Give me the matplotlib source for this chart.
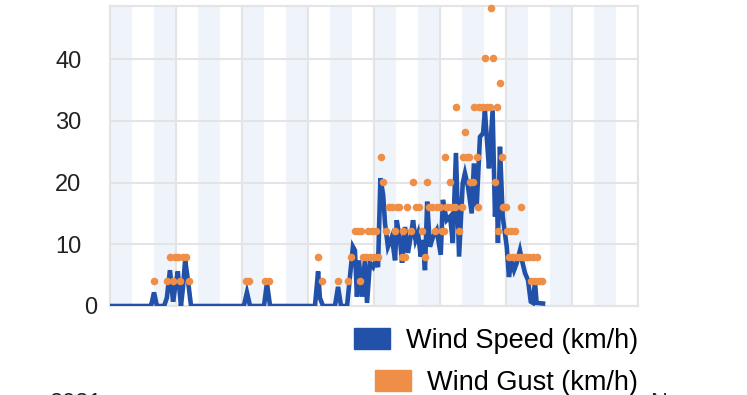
import matplotlib
matplotlib.use("Agg")
import matplotlib.pyplot as plt
import matplotlib.transforms as mtransforms
from matplotlib.patches import Patch

plt.rcParams['font.family'] = ['Liberation Sans', 'DejaVu Sans']

# hours since start of the period
speed_hours = [0, 21.8, 22.4, 24, 25.6, 29.5, 31, 32.7, 34.4, 35.5, 37, 38.7, 39.8, 41, 42.5, 44.2,
               73, 74.7, 76.4, 84, 85.6, 87.3, 111.8, 113.5, 114.5, 116.2, 122.7, 124.4, 126,
               129.3, 132.5, 133.6, 134.7, 135.8, 137.5, 139, 140.2, 141.8, 143.5, 145, 146.2,
               147.5, 149, 150, 151.6, 153.7, 155.5, 156.4, 158.2, 159.3, 160.9, 162.5, 164,
               165.3, 166.7, 168, 169.5, 170.7, 171.8, 173, 174.5, 176.2, 178.2, 180.4, 181.6,
               183.6, 185.5, 187, 188.7, 190.4, 192.4, 193.6, 195.3, 197.3, 198.5, 200, 201.8,
               203.5, 204.5, 205.6, 206.7, 208.7, 210, 211, 211.6, 212.7, 214.2, 216.4, 217.6,
               219, 220.4, 221.8, 223.6, 225, 226.4, 228, 229.5, 230.7, 231.8, 232.7, 236.2]
speed_kmh = [0, 0, 0, 2.2, 0, 0, 1.3, 5.8, 0.7, 3, 5.6, 0, 3, 7.4, 4.2, 0,
             0, 2.2, 0, 0, 3.7, 0, 0, 5.6, 1.3, 0, 0, 3.1, 0,
             0, 9.6, 9.0, 1.5, 7.4, 1.5, 7.4, 0.5, 7, 6.3, 7.4, 6.3,
             20.7, 18, 13.4, 9.6, 11.2, 7.4, 13.9, 10.7, 7, 12.8, 8.6, 11.2,
             13.9, 10.7, 11.8, 8, 10.7, 5.8, 16.9, 9.6, 11.2, 12.3, 8.3, 17.2,
             13.9, 14.5, 10.2, 24.8, 8, 19.9, 21.5, 19.3, 15, 23.1, 16.1, 27.4,
             28, 31.7, 26.9, 22.3, 31.7, 14.5, 19.3, 10.2, 25.8, 14.5, 9.6, 4.7,
             7.4, 5.8, 6.9, 9, 7, 5.3, 4.2, 0.7, 0.5, 3.9, 0.5, 0.4]

gust_hours = [24, 31, 32.7, 34.4, 35.5, 37, 38.2, 39.8, 41.5, 43,
              74.2, 75.8, 84.5, 86.7, 113.5, 115.5, 124.4,
              129.8, 131.5, 133.6, 135.3, 136.4, 136.9, 138, 139.6, 140.7, 141.8, 143, 144,
              145, 146.2, 147.6, 149, 150.5, 152.2, 153.8, 155.5, 156.5, 157.6, 159.3, 159.8,
              160.9, 162, 164.2, 165.3, 167, 168.5, 170.2, 171.8, 173, 174, 175.6, 177.3,
              178.4, 180, 181, 182.2, 182.7, 183.3, 184.4, 185.5, 186.5, 188.2, 188.7, 190.4,
              192, 192.5, 193.6, 194.7, 195.8, 196.4, 198, 198.5, 200.2, 200.5, 201.3, 203.5,
              204.5, 205.6, 207.3, 207.8, 208.7, 209.8, 210.9, 211.6, 212.7, 213.8, 214.4,
              216, 216.5, 217.6, 218.7, 219.8, 220.9, 222, 223.6, 224.2, 225.3, 226.9, 228.5,
              229.6, 230.7, 231.8, 232.9, 234, 235.6]
gust_kmh = [4.0, 4.0, 8.0, 4.0, 8.0, 8.0, 4.0, 8.0, 8.0, 4.0,
            4.0, 4.0, 4.0, 4.0, 8.0, 4.0, 4.0,
            4.0, 8.0, 12.1, 12.1, 4.0, 12.1, 8.0, 8.0, 12.1, 8.0, 12.1, 8.0,
            12.1, 8.0, 24.1, 20.1, 12.1, 16.1, 16.1, 12.1, 16.1, 16.1, 8.0, 12.1,
            8.0, 16.1, 12.1, 20.1, 16.1, 16.1, 12.1, 8.0, 20.1, 16.1, 16.1, 12.1,
            16.1, 16.1, 12.1, 12.1, 24.1, 16.1, 16.1, 20.1, 16.1, 16.1, 32.2, 12.1,
            16.1, 24.1, 28.2, 24.1, 24.1, 20.1, 20.1, 32.2, 24.1, 16.1, 32.2, 32.2,
            40.2, 32.2, 32.2, 48.3, 40.2, 20.1, 32.2, 12.1, 36.2, 24.1, 16.1,
            16.1, 12.1, 8.0, 12.1, 8.0, 12.1, 8.0, 8.0, 16.1, 8.0, 8.0, 8.0,
            4.0, 8.0, 4.0, 8.0, 4.0, 4.0]

y_ticks = [0, 10, 20, 30, 40]
night_starts = [24 * d for d in range(12)]

blue = '#2251a9'
orange = '#ef8e47'
grid_c = '#e4e4e7'

fig = plt.figure(figsize=(7.47, 3.95), dpi=100)
ax = fig.add_axes([110 / 747, 89 / 395, 528 / 747, 300 / 395])

for s in night_starts:
    ax.axvspan(s, s + 12, color='#eff4fa', lw=0, zorder=0)

ax.set_xlim(0, 288)
ax.set_ylim(0, 48.6)
ax.set_xticks(range(0, 289, 36))
ax.set_yticks(y_ticks)
ax.grid(True, color=grid_c, lw=1.5, zorder=1)
ax.set_axisbelow(True)
for sp in ax.spines.values():
    sp.set_color(grid_c)
    sp.set_linewidth(1.5)
ax.tick_params(length=0, labelbottom=False, labelsize=17, colors='#222222', pad=20.5)
for lab in ax.get_yticklabels():
    if lab.get_text() == '0':
        lab.set_transform(lab.get_transform() + mtransforms.ScaledTranslation(16 / 100, 0, fig.dpi_scale_trans))

ax.plot(speed_hours, speed_kmh, color=blue, lw=3.3, solid_joinstyle='miter', zorder=3)
ax.scatter(gust_hours, gust_kmh, s=30, color=orange, lw=0, zorder=4, clip_on=False)

h1 = Patch(color=blue)
h2 = Patch(color=orange)
leg1 = ax.legend([h1], ['Wind Speed (km/h)'], loc='upper right', bbox_to_anchor=(638 / 747, 1 - 328 / 395),
                 bbox_transform=fig.transFigure, frameon=False, fontsize=19.5, handlelength=1.33,
                 handleheight=0.8, handletextpad=0.6, borderpad=0, borderaxespad=0)
ax.add_artist(leg1)
ax.legend([h2], ['Wind Gust (km/h)'], loc='upper right', bbox_to_anchor=(638 / 747, 1 - 370 / 395),
          bbox_transform=fig.transFigure, frameon=False, fontsize=19.5, handlelength=1.33,
          handleheight=0.8, handletextpad=0.6, borderpad=0, borderaxespad=0)

# axis labels cut off by the bottom edge of the image, as in the source screenshot
fig.text(50 / 747, 2 / 395, '2021', fontsize=17, color='#222222', va='top')
fig.text(650 / 747, 2 / 395, 'No', fontsize=17, color='#222222', va='top')

plt.savefig('out.png', dpi=100)
